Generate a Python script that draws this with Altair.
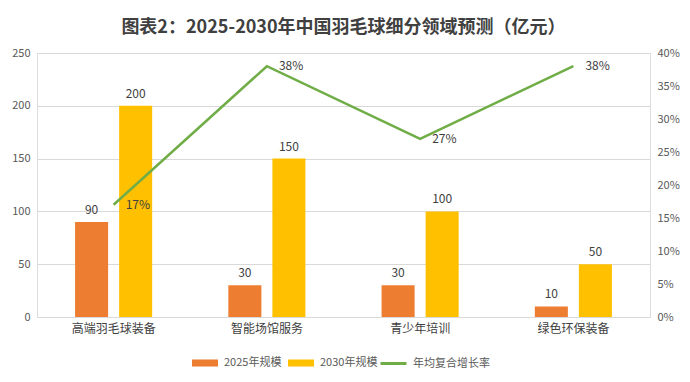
import altair as alt
import pandas as pd

categories = ["高端羽毛球装备", "智能场馆服务", "青少年培训", "绿色环保装备"]
size_2025 = [90, 30, 30, 10]
size_2030 = [200, 150, 100, 50]
cagr = [0.17, 0.38, 0.27, 0.38]
series_names = ["2025年规模", "2030年规模", "年均复合增长率"]
colors = ["#ED7D31", "#FFC000", "#70AD47"]
left_ticks = [0, 50, 100, 150, 200, 250]
right_ticks = [0, 0.05, 0.10, 0.15, 0.20, 0.25, 0.30, 0.35, 0.40]
title_text = "图表2：2025-2030年中国羽毛球细分领域预测（亿元）"

FONT = "Noto Sans CJK SC"

bars_df = pd.DataFrame({
    "category": categories * 2,
    "series": [series_names[0]] * len(categories) + [series_names[1]] * len(categories),
    "value": size_2025 + size_2030,
})
line_df = pd.DataFrame({
    "category": categories,
    "series": [series_names[2]] * len(categories),
    "rate": cagr,
})

x_enc = alt.X(
    "category:N", sort=categories,
    scale=alt.Scale(paddingInner=0.497, paddingOuter=0.2485),
    axis=alt.Axis(title=None, labelAngle=0, ticks=False, domainColor="#D9D9D9",
                  labelFontSize=12, labelColor="#404040", labelPadding=6, labelFont=FONT),
)

rect_path = "M-1,-0.27h2v0.54h-2z"

color_enc = alt.Color(
    "series:N",
    scale=alt.Scale(domain=series_names[:2], range=colors[:2]),
    legend=alt.Legend(
        title=None, orient="none", direction="horizontal",
        legendX=154, legendY=296,
        symbolType=rect_path, symbolSize=676,
        labelFontSize=11, labelColor="#595959", labelFont=FONT,
        labelOffset=5, columnPadding=5,
    ),
)
stroke_enc = alt.Stroke(
    "series:N",
    scale=alt.Scale(domain=series_names[2:], range=colors[2:]),
    legend=alt.Legend(
        title=None, orient="none", direction="horizontal",
        legendX=342, legendY=296,
        symbolType="stroke", symbolSize=676, symbolStrokeWidth=3,
        labelFontSize=11, labelColor="#595959", labelFont=FONT,
        labelOffset=5,
    ),
)

xoff = alt.XOffset("series:N", sort=series_names[:2],
                   scale=alt.Scale(paddingInner=0.25, paddingOuter=0))

y_left = alt.Y(
    "value:Q", scale=alt.Scale(domain=[0, 250]),
    axis=alt.Axis(title=None, values=left_ticks, domain=False, ticks=False,
                  grid=True, gridColor="#D9D9D9", labelFontSize=11, labelColor="#595959",
                  labelPadding=7, labelFont=FONT),
)

y_right = alt.Y(
    "rate:Q", scale=alt.Scale(domain=[0, 0.4]),
    axis=alt.Axis(title=None, orient="right", values=right_ticks, format=".0%",
                  grid=False, domain=False, ticks=False, labelFontSize=11,
                  labelColor="#595959", labelPadding=7, labelFont=FONT),
)

bars = alt.Chart(bars_df).mark_bar().encode(
    x=x_enc, xOffset=xoff, y=y_left, color=color_enc,
)
bar_text = alt.Chart(bars_df).mark_text(
    baseline="bottom", dy=-5, fontSize=12, color="#404040", font=FONT
).encode(
    x=x_enc, xOffset=xoff, y=y_left,
    text=alt.Text("value:Q"),
)

line = alt.Chart(line_df).mark_line(strokeWidth=2.5).encode(
    x=x_enc, y=y_right, stroke=stroke_enc,
)
line_text = alt.Chart(line_df).mark_text(
    align="left", baseline="middle", dx=12, fontSize=12, color="#404040", font=FONT
).encode(
    x=x_enc, y=y_right,
    text=alt.Text("rate:Q", format=".0%"),
)

left = alt.layer(bars, bar_text)
right = alt.layer(line, line_text)

chart = alt.layer(left, right).resolve_scale(y="independent").properties(
    width=613, height=264,
    title=alt.TitleParams(title_text, fontSize=18, fontWeight="bold", color="#404040",
                          font=FONT, anchor="middle", offset=10),
    autosize=alt.AutoSizeParams(type="none"),
    padding={"left": 29, "top": 45, "right": 32, "bottom": 54},
).configure_view(stroke=None).configure(background="white")

chart.save("out.html", embed_options={"renderer": "svg", "actions": False})
